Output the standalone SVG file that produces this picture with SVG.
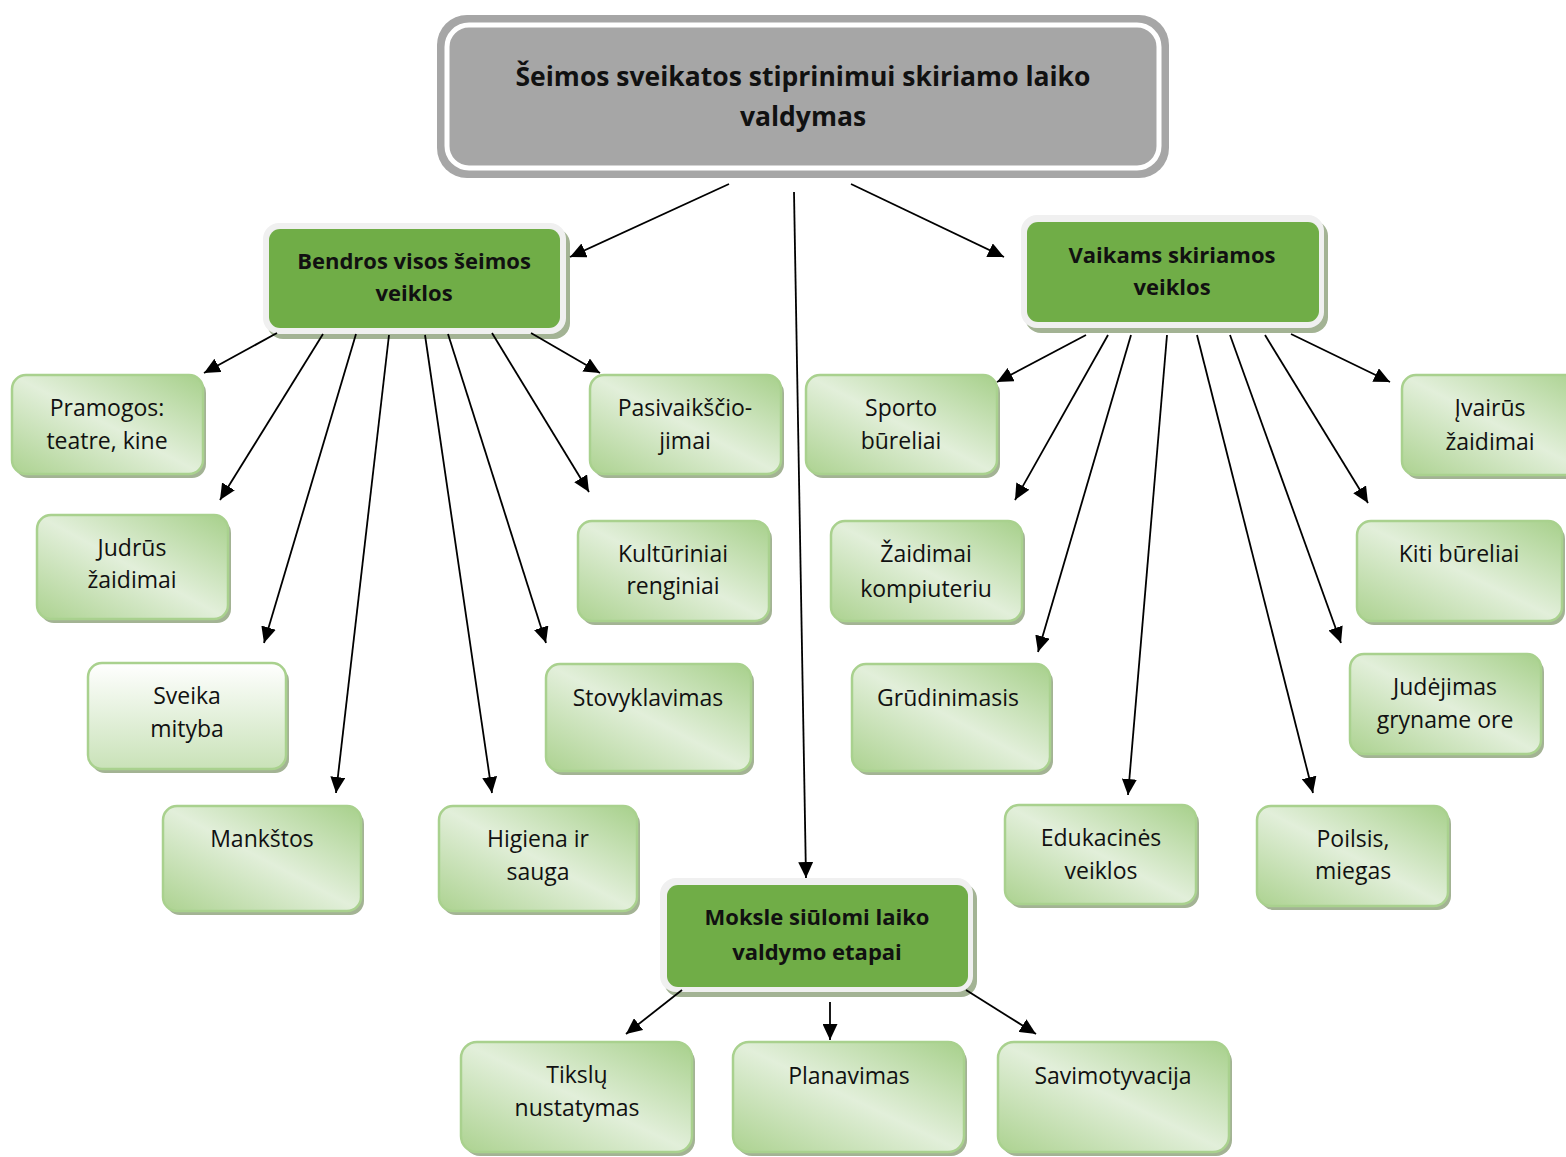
<svg xmlns="http://www.w3.org/2000/svg" width="1566" height="1157" viewBox="0 0 1566 1157">
<defs>
<linearGradient id="lg" x1="1" y1="0" x2="0" y2="1">
<stop offset="0" stop-color="#a7d08b"/>
<stop offset="0.5" stop-color="#e2efda"/>
<stop offset="1" stop-color="#acd290"/>
</linearGradient>
<linearGradient id="lgv" x1="0" y1="0" x2="0" y2="1">
<stop offset="0" stop-color="#ffffff"/>
<stop offset="1" stop-color="#c9e2b8"/>
</linearGradient>
<marker id="ah" markerUnits="userSpaceOnUse" markerWidth="17" markerHeight="15" refX="16" refY="7.5" orient="auto">
<path d="M0,0 L16,7.5 L0,15 z" fill="#000"/>
</marker>
</defs>
<style>
.sh{fill:#a3b394}
.lb{fill:url(#lg);stroke:#a9d18e;stroke-width:2.5}
.lbv{fill:url(#lgv);stroke:#a9d18e;stroke-width:2.5}
.gf{fill:#f0f0f0}
.gi{fill:#70ad47}
.t{font-family:"Open Sans",Lato,"Liberation Sans",sans-serif;font-size:23px;fill:#111;text-anchor:middle}
.tb{font-family:"Open Sans",Lato,"Liberation Sans",sans-serif;font-size:22px;font-weight:bold;fill:#111;text-anchor:middle}
.tt{font-family:"Open Sans",Lato,"Liberation Sans",sans-serif;font-size:26.5px;font-weight:bold;fill:#111;text-anchor:middle}
.c line{stroke:#000;stroke-width:1.8;marker-end:url(#ah)}
</style>
<rect width="1566" height="1157" fill="#fff"/>

<g id="root">
<rect x="437" y="15" width="732" height="163" rx="30" fill="#a6a6a6"/>
<rect x="447" y="25" width="712" height="143" rx="22" fill="#a6a6a6" stroke="#fff" stroke-width="5"/>
<text class="tt" x="803" y="86">Šeimos sveikatos stiprinimui skiriamo laiko</text>
<text class="tt" x="803" y="126">valdymas</text>
</g>

<g id="bendros">
<rect class="sh" x="267" y="228" width="303" height="111" rx="16"/>
<rect class="gf" x="263" y="223" width="303" height="111" rx="16"/>
<rect class="gi" x="269" y="229" width="291" height="99" rx="11"/>
<text class="tb" x="414" y="269">Bendros visos šeimos</text>
<text class="tb" x="414" y="301">veiklos</text>
</g>

<g id="vaikams">
<rect class="sh" x="1025" y="220" width="303" height="113" rx="16"/>
<rect class="gf" x="1021" y="215" width="303" height="113" rx="16"/>
<rect class="gi" x="1027" y="222" width="292" height="100" rx="11"/>
<text class="tb" x="1172" y="263">Vaikams skiriamos</text>
<text class="tb" x="1172" y="295">veiklos</text>
</g>

<g id="moksle">
<rect class="sh" x="664" y="883" width="313" height="114" rx="16"/>
<rect class="gf" x="660" y="878" width="313" height="114" rx="16"/>
<rect class="gi" x="667" y="885" width="301" height="102" rx="11"/>
<text class="tb" x="817" y="925">Moksle siūlomi laiko</text>
<text class="tb" x="817" y="960">valdymo etapai</text>
</g>

<g id="pramogos">
<rect class="sh" x="15" y="379" width="191" height="99" rx="14"/>
<rect class="lb" x="12" y="375" width="191" height="99" rx="14"/>
<text class="t" x="107" y="416">Pramogos:</text>
<text class="t" x="107" y="449">teatre, kine</text>
</g>
<g id="judrus">
<rect class="sh" x="40" y="519" width="191" height="104" rx="14"/>
<rect class="lb" x="37" y="515" width="191" height="104" rx="14"/>
<text class="t" x="132" y="556">Judrūs</text>
<text class="t" x="132" y="588">žaidimai</text>
</g>
<g id="sveika">
<rect class="sh" x="91" y="667" width="198" height="106" rx="14"/>
<rect class="lbv" x="88" y="663" width="198" height="106" rx="14"/>
<text class="t" x="187" y="704">Sveika</text>
<text class="t" x="187" y="737">mityba</text>
</g>
<g id="mankstos">
<rect class="sh" x="166" y="810" width="198" height="105" rx="14"/>
<rect class="lb" x="163" y="806" width="198" height="105" rx="14"/>
<text class="t" x="262" y="847">Mankštos</text>
</g>
<g id="higiena">
<rect class="sh" x="442" y="810" width="198" height="105" rx="14"/>
<rect class="lb" x="439" y="806" width="198" height="105" rx="14"/>
<text class="t" x="538" y="847">Higiena ir</text>
<text class="t" x="538" y="880">sauga</text>
</g>
<g id="stovyklavimas">
<rect class="sh" x="549" y="668" width="205" height="107" rx="14"/>
<rect class="lb" x="546" y="664" width="205" height="107" rx="14"/>
<text class="t" x="648" y="706">Stovyklavimas</text>
</g>
<g id="kulturiniai">
<rect class="sh" x="581" y="525" width="191" height="100" rx="14"/>
<rect class="lb" x="578" y="521" width="191" height="100" rx="14"/>
<text class="t" x="673" y="562">Kultūriniai</text>
<text class="t" x="673" y="594">renginiai</text>
</g>
<g id="pasivaikscio">
<rect class="sh" x="593" y="379" width="191" height="99" rx="14"/>
<rect class="lb" x="590" y="375" width="191" height="99" rx="14"/>
<text class="t" x="685" y="416">Pasivaikščio-</text>
<text class="t" x="685" y="449">jimai</text>
</g>
<g id="sporto">
<rect class="sh" x="809" y="379" width="191" height="99" rx="14"/>
<rect class="lb" x="806" y="375" width="191" height="99" rx="14"/>
<text class="t" x="901" y="416">Sporto</text>
<text class="t" x="901" y="449">būreliai</text>
</g>
<g id="kompiuteriu">
<rect class="sh" x="834" y="525" width="191" height="100" rx="14"/>
<rect class="lb" x="831" y="521" width="191" height="100" rx="14"/>
<text class="t" x="926" y="562">Žaidimai</text>
<text class="t" x="926" y="597">kompiuteriu</text>
</g>
<g id="grudinimasis">
<rect class="sh" x="855" y="668" width="198" height="107" rx="14"/>
<rect class="lb" x="852" y="664" width="198" height="107" rx="14"/>
<text class="t" x="948" y="706">Grūdinimasis</text>
</g>
<g id="edukacines">
<rect class="sh" x="1008" y="809" width="191" height="99" rx="14"/>
<rect class="lb" x="1005" y="805" width="191" height="99" rx="14"/>
<text class="t" x="1101" y="846">Edukacinės</text>
<text class="t" x="1101" y="879">veiklos</text>
</g>
<g id="poilsis">
<rect class="sh" x="1260" y="810" width="191" height="100" rx="14"/>
<rect class="lb" x="1257" y="806" width="191" height="100" rx="14"/>
<text class="t" x="1353" y="847">Poilsis,</text>
<text class="t" x="1353" y="879">miegas</text>
</g>
<g id="judejimas">
<rect class="sh" x="1353" y="658" width="191" height="100" rx="14"/>
<rect class="lb" x="1350" y="654" width="191" height="100" rx="14"/>
<text class="t" x="1445" y="695">Judėjimas</text>
<text class="t" x="1445" y="728">gryname ore</text>
</g>
<g id="kiti">
<rect class="sh" x="1360" y="525" width="205" height="100" rx="14"/>
<rect class="lb" x="1357" y="521" width="205" height="100" rx="14"/>
<text class="t" x="1459" y="562">Kiti būreliai</text>
</g>
<g id="ivairus">
<rect class="sh" x="1405" y="379" width="191" height="100" rx="14"/>
<rect class="lb" x="1402" y="375" width="191" height="100" rx="14"/>
<text class="t" x="1490" y="416">Įvairūs</text>
<text class="t" x="1490" y="450">žaidimai</text>
</g>
<g id="tikslu">
<rect class="sh" x="464" y="1046" width="231" height="110" rx="16"/>
<rect class="lb" x="461" y="1042" width="231" height="110" rx="16"/>
<text class="t" x="577" y="1083">Tikslų</text>
<text class="t" x="577" y="1116">nustatymas</text>
</g>
<g id="planavimas">
<rect class="sh" x="736" y="1046" width="231" height="110" rx="16"/>
<rect class="lb" x="733" y="1042" width="231" height="110" rx="16"/>
<text class="t" x="849" y="1084">Planavimas</text>
</g>
<g id="savimotyvacija">
<rect class="sh" x="1001" y="1046" width="231" height="110" rx="16"/>
<rect class="lb" x="998" y="1042" width="231" height="110" rx="16"/>
<text class="t" x="1113" y="1084">Savimotyvacija</text>
</g>

<g class="c" id="connectors">
<line x1="729" y1="184" x2="570" y2="257"/>
<line x1="794" y1="192" x2="806" y2="878"/>
<line x1="851" y1="184" x2="1004" y2="257"/>
<line x1="277" y1="333" x2="204" y2="373"/>
<line x1="323" y1="334" x2="220" y2="500"/>
<line x1="356" y1="334" x2="264" y2="643"/>
<line x1="389" y1="335" x2="336" y2="793"/>
<line x1="425" y1="335" x2="492" y2="793"/>
<line x1="448" y1="334" x2="546" y2="643"/>
<line x1="492" y1="333" x2="589" y2="492"/>
<line x1="531" y1="333" x2="600" y2="373"/>
<line x1="1086" y1="335" x2="997" y2="382"/>
<line x1="1108" y1="335" x2="1015" y2="500"/>
<line x1="1131" y1="335" x2="1038" y2="652"/>
<line x1="1167" y1="335" x2="1128" y2="795"/>
<line x1="1197" y1="335" x2="1313" y2="793"/>
<line x1="1230" y1="335" x2="1341" y2="643"/>
<line x1="1265" y1="335" x2="1368" y2="503"/>
<line x1="1291" y1="334" x2="1390" y2="382"/>
<line x1="682" y1="990" x2="626" y2="1034"/>
<line x1="830" y1="1002" x2="830" y2="1040"/>
<line x1="966" y1="990" x2="1036" y2="1034"/>
</g>
</svg>
